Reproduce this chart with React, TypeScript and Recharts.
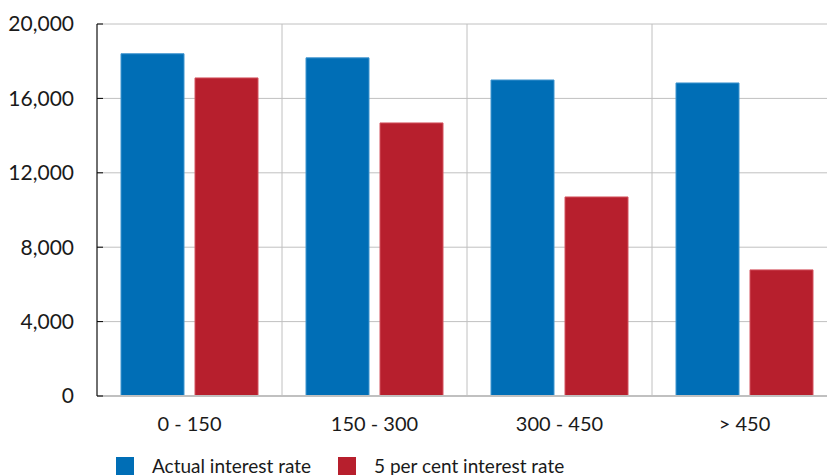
import { BarChart, Bar, XAxis, YAxis, CartesianGrid, Legend } from "recharts";

const bands = ["0 - 150", "150 - 300", "300 - 450", "> 450"];
const actualRate = [18400, 18180, 16990, 16830];
const fivePerCent = [17100, 14680, 10700, 6780];
const yTicks = [0, 4000, 8000, 12000, 16000, 20000];

const data = bands.map((band, i) => ({
  band,
  actual: actualRate[i],
  five: fivePerCent[i],
}));

const BLUE = "#006eb6";
const RED = "#b71f2d";
const FONT = "Lato, 'Open Sans', sans-serif";

const legendItems = [
  { label: "Actual interest rate", color: BLUE },
  { label: "5 per cent interest rate", color: RED },
];

function LegendRow() {
  return (
    <div style={{ display: "flex", alignItems: "center", paddingLeft: 116, paddingTop: 14, fontFamily: FONT, fontSize: 19, color: "#1a1a1a" }}>
      {legendItems.map((it) => (
        <div key={it.label} style={{ display: "flex", alignItems: "center", marginRight: 27 }}>
          <span style={{ width: 18, height: 18, background: it.color, display: "inline-block", marginRight: 18 }} />
          <span>{it.label}</span>
        </div>
      ))}
    </div>
  );
}

export default function App() {
  return (
    <div style={{ position: "fixed", left: 0, top: 0, width: 827, height: 475, overflow: "hidden", background: "#fff" }}>
      <BarChart
        width={840}
        height={475}
        data={data}
        margin={{ top: 24, right: 3, bottom: 0, left: 0 }}
        barCategoryGap={24}
        barGap={11}
      >
        <CartesianGrid
          stroke="#c0c0c0"
          verticalCoordinatesGenerator={({ offset }: any) =>
            bands.map((_, i) => offset.left + (i * offset.width) / bands.length).concat(offset.left + offset.width)
          }
        />
        <XAxis
          dataKey="band"
          height={44}
          tickLine={false}
          axisLine={{ stroke: "#c0c0c0", strokeWidth: 2 }}
          tickMargin={15}
          tick={{ fill: "#1a1a1a", fontSize: 20, fontFamily: FONT }}
        />
        <YAxis
          width={97}
          domain={[0, 20000]}
          ticks={yTicks}
          interval={0}
          axisLine={{ stroke: "#000" }}
          tickLine={{ stroke: "#000" }}
          tickSize={-6}
          tickMargin={29}
          tickFormatter={(v: number) => v.toLocaleString("en-US")}
          tick={{ fill: "#1a1a1a", fontSize: 21, fontFamily: FONT }}
        />
        <Legend verticalAlign="bottom" height={35} content={() => <LegendRow />} />
        <Bar dataKey="actual" name="Actual interest rate" fill={BLUE} stroke="#3f95cf" strokeWidth={1} isAnimationActive={false} />
        <Bar dataKey="five" name="5 per cent interest rate" fill={RED} stroke="#d4535e" strokeWidth={1} isAnimationActive={false} />
      </BarChart>
    </div>
  );
}
